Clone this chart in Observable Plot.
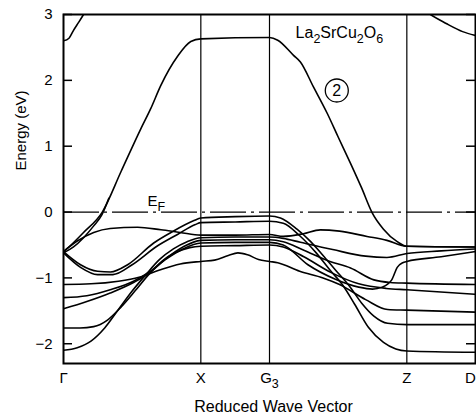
<!DOCTYPE html>
<html>
<head>
<meta charset="utf-8">
<script src="https://cdn.jsdelivr.net/npm/d3@7"></script>
<script src="https://cdn.jsdelivr.net/npm/@observablehq/plot@0.6"></script>
<style>
  html, body { margin: 0; padding: 0; background: white; }
</style>
</head>
<body>
<div id="chart"></div>
<script>
// ---- symmetry points (x axis) ----
const xTicks = [0, 1, 1.5, 2.5, 3];
const xNames = ["Γ", "X", "G3", "Z", "D"];
const symLines = [1, 1.5, 2.5];
// ---- energy ticks ----
const yTicks = [-2, -1, 0, 1, 2, 3];
const fermi = [0];

// ---- bands: [reduced k, energy (eV)] ----
const band2 = [[0,-0.60],[0.07,-0.47],[0.146,-0.31],[0.2825,0.0],[0.42,0.62],[0.562,1.26],[0.635,1.57],[0.708,1.92],[0.832,2.37],[0.927,2.59],[1.0,2.63],[1.5,2.65],[1.56,2.61],[1.675,2.38],[1.725,2.28],[1.82,1.90],[1.92,1.50],[2.0,1.14],[2.09,0.74],[2.17,0.37],[2.245,0.0],[2.33,-0.26],[2.43,-0.45],[2.5,-0.52],[3.0,-0.53]];
const band2b = [[0,-0.62],[0.073,-0.53],[0.146,-0.39],[0.22,-0.21],[0.28,-0.04],[0.33,0.21]];
const bandTopL = [[0,2.6],[0.04,2.64],[0.073,2.76],[0.11,2.88],[0.146,3.0],[0.18,3.12]];
const bandTopR = [[2.6,3.12],[2.652,3.03],[2.79,2.86],[2.906,2.74],[3.0,2.68]];
const bandA = [[0,-0.60],[0.124,-0.80],[0.248,-0.90],[0.343,-0.91],[0.467,-0.80],[0.657,-0.47],[0.8,-0.29],[0.95,-0.13],[1.0,-0.09],[1.25,-0.07],[1.5,-0.06],[1.58,-0.09],[1.70,-0.26],[1.80,-0.45],[1.89,-0.66],[1.98,-0.88],[2.08,-1.12],[2.17,-1.38],[2.26,-1.58],[2.36,-1.69],[2.5,-1.71],[3.0,-1.71]];
const bandB = [[0,-0.62],[0.124,-0.84],[0.248,-0.95],[0.36,-0.95],[0.5,-0.80],[0.68,-0.52],[0.83,-0.34],[0.96,-0.19],[1.0,-0.16],[1.25,-0.15],[1.5,-0.14],[1.6,-0.17],[1.72,-0.36],[1.84,-0.62],[1.94,-0.88],[2.03,-1.10],[2.12,-1.40],[2.22,-1.75],[2.33,-1.98],[2.42,-2.08],[2.5,-2.11],[3.0,-2.13]];
const bandC = [[0,-0.60],[0.1,-0.44],[0.22,-0.31],[0.34,-0.25],[0.54,-0.23],[0.71,-0.27],[0.85,-0.31],[1.0,-0.35],[1.25,-0.35],[1.5,-0.34],[1.6,-0.37],[1.746,-0.33],[1.87,-0.27],[2.01,-0.29],[2.21,-0.37],[2.355,-0.43],[2.5,-0.52],[3.0,-0.53]];
const bandD = [[0,-2.10],[0.1,-2.06],[0.2,-1.96],[0.3,-1.76],[0.4,-1.48],[0.5,-1.20],[0.6,-0.95],[0.7,-0.72],[0.8,-0.56],[0.9,-0.45],[1.0,-0.39],[1.25,-0.38],[1.5,-0.38],[1.6,-0.40],[1.725,-0.46],[1.96,-0.57],[2.2,-0.67],[2.355,-0.69],[2.5,-0.63],[2.75,-0.59],[3.0,-0.56]];
const bandF = [[0,-1.76],[0.12,-1.76],[0.22,-1.74],[0.32,-1.64],[0.42,-1.44],[0.52,-1.20],[0.62,-0.95],[0.72,-0.74],[0.82,-0.61],[0.92,-0.54],[1.0,-0.52],[1.25,-0.51],[1.5,-0.50],[1.6,-0.53],[1.75,-0.68],[1.95,-0.92],[2.15,-1.09],[2.35,-1.16],[2.5,-1.18],[3.0,-1.25]];
const bandE = [[0,-1.47],[0.17,-1.36],[0.34,-1.23],[0.51,-1.07],[0.63,-0.92],[0.75,-0.70],[0.87,-0.53],[1.0,-0.43],[1.25,-0.42],[1.5,-0.42],[1.6,-0.45],[1.75,-0.58],[1.94,-0.75],[2.09,-0.85],[2.26,-1.03],[2.38,-1.07],[2.5,-1.08],[3.0,-1.10]];
const bandOdd = [[0,-1.30],[0.17,-1.27],[0.34,-1.18],[0.51,-1.05],[0.63,-0.90],[0.75,-0.71],[0.87,-0.56],[1.0,-0.47],[1.25,-0.46],[1.5,-0.46],[1.6,-0.50],[1.78,-0.80],[1.98,-1.02],[2.15,-1.14],[2.25,-1.17],[2.32,-1.14],[2.39,-1.03],[2.43,-0.84],[2.47,-0.77],[2.5,-0.75],[2.75,-0.68],[3.0,-0.60]];
const bandG = [[0,-1.10],[0.2,-1.09],[0.4,-1.05],[0.55,-0.99],[0.7,-0.88],[0.85,-0.79],[1.0,-0.75],[1.1,-0.73],[1.2,-0.66],[1.27,-0.62],[1.34,-0.65],[1.42,-0.72],[1.5,-0.75],[1.56,-0.77],[1.72,-0.90],[1.89,-1.0],[2.01,-1.10],[2.2,-1.33],[2.36,-1.48],[2.5,-1.49],[3.0,-1.52]];

const bands = [band2, band2b, bandTopL, bandTopR, bandA, bandB, bandC, bandD, bandF, bandE, bandOdd, bandG];

// ---- annotations ----
const formulaLabel = [{text: "La2SrCu2O6", x: 1.69, y: 2.72}];
const bandLabel = [{text: "2", x: 1.99, y: 1.846}];
const fermiLabel = [{text: "EF", x: 0.612, y: 0.17}];

const font = "'Liberation Sans', Arial, Helvetica, sans-serif";

const chart = Plot.plot({
  width: 476,
  height: 415,
  marginLeft: 63,
  marginRight: 1,
  marginTop: 14,
  marginBottom: 52,
  style: {fontFamily: font, background: "white", color: "black", overflow: "visible"},
  x: {domain: [0, 3]},
  y: {domain: [-2.3, 3]},
  marks: [
    Plot.ruleX(symLines, {stroke: "black", strokeWidth: 1.2}),
    Plot.ruleY(fermi, {stroke: "black", strokeWidth: 1.2, strokeDasharray: "36,5,3,5"}),
    ...bands.map(b => Plot.line(b, {x: d => d[0], y: d => d[1], curve: "monotone-x", stroke: "black", strokeWidth: 1.6, clip: true})),
    Plot.tickY(yTicks, {y: d => d, insetRight: 403, stroke: "black", strokeWidth: 1.5}),
    Plot.tickY(yTicks, {y: d => d, insetLeft: 403, stroke: "black", strokeWidth: 1.5}),
    Plot.axisY(yTicks, {anchor: "left", tickSize: 0, tickPadding: 11, fontSize: 15, label: null, tickFormat: d => String(d).replace("-", "−")}),
    Plot.axisX(xTicks.slice(0, 4), {anchor: "bottom", tickSize: 0, tickPadding: 9, fontSize: 15, label: null, tickFormat: d => xNames[xTicks.indexOf(d)]}),
    Plot.axisX(xTicks.slice(4), {anchor: "bottom", tickSize: 0, tickPadding: 9, fontSize: 15, label: null, dx: -5, tickFormat: d => xNames[xTicks.indexOf(d)]}),
    Plot.frame({stroke: "black", strokeWidth: 2}),
    Plot.text(formulaLabel, {x: "x", y: "y", text: "text", textAnchor: "start", fontSize: 16, letterSpacing: "0.6px"}),
    Plot.dot(bandLabel, {x: "x", y: "y", r: 11.5, stroke: "black", strokeWidth: 1.3, fill: "white"}),
    Plot.text(bandLabel, {x: "x", y: "y", text: "text", fontSize: 16}),
    Plot.text(fermiLabel, {x: "x", y: "y", text: "text", textAnchor: "start", fontSize: 15}),
    Plot.text(["Energy (eV)"], {frameAnchor: "top-left", textAnchor: "middle", lineAnchor: "middle", dx: -42, dy: 116, rotate: -90, fontSize: 15, letterSpacing: "0.4px"}),
    Plot.text(["Reduced Wave Vector"], {frameAnchor: "bottom", textAnchor: "middle", lineAnchor: "middle", dx: 4, dy: 43, fontSize: 16, letterSpacing: "0.5px"})
  ]
});

// subscripts rendered as tspans (text stays text)
const subs = {
  "La2SrCu2O6": [["La",0],["2",1],["SrCu",0],["2",1],["O",0],["6",1]],
  "G3": [["G",0],["3",1]],
  "EF": [["E",0],["F",1]]
};
chart.querySelectorAll("text").forEach(el => {
  const key = el.textContent;
  if (!subs[key] || el.querySelector("tspan")) return;
  el.textContent = "";
  let down = false;
  subs[key].forEach(([s, isSub]) => {
    const t = document.createElementNS("http://www.w3.org/2000/svg", "tspan");
    t.textContent = s;
    if (isSub && !down) { t.setAttribute("dy", "5"); down = true; }
    else if (!isSub && down) { t.setAttribute("dy", "-5"); down = false; }
    if (isSub) t.setAttribute("font-size", "12.5");
    el.appendChild(t);
  });
});

document.getElementById("chart").appendChild(chart);
</script>
</body>
</html>
